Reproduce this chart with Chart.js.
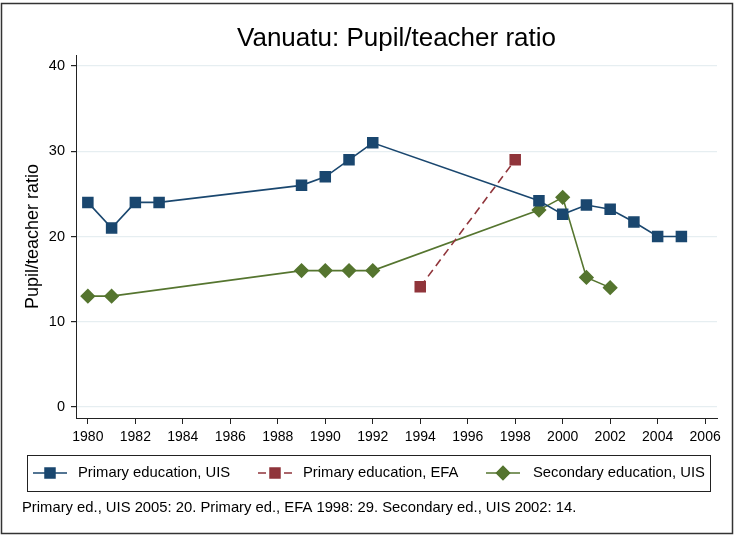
<!DOCTYPE html>
<html>
<head>
<meta charset="utf-8">
<script src="https://cdn.jsdelivr.net/npm/chart.js@4/dist/chart.umd.min.js"></script>
<style>
  html, body { margin: 0; padding: 0; background: #fff; }
  #wrap { width: 736px; height: 536px; }
</style>
</head>
<body>
<div id="wrap"><canvas id="chart" width="736" height="536"></canvas></div>
<script>
// values
const years_uis = [1980, 1981, 1982, 1983, 1989, 1990, 1991, 1992, 1999, 2000, 2001, 2002, 2003, 2004, 2005];
const primary_uis = [24, 21, 24, 24, 26, 27, 29, 31, 24.2, 22.6, 23.7, 23.2, 21.7, 20, 20];
const years_efa = [1994, 1998];
const primary_efa = [14.1, 29];
const years_sec = [1980, 1981, 1989, 1990, 1991, 1992, 1999, 2000, 2001, 2002];
const secondary_uis = [13, 13, 16, 16, 16, 16, 23.1, 24.6, 15.2, 14];
const x_ticks = [1980, 1982, 1984, 1986, 1988, 1990, 1992, 1994, 1996, 1998, 2000, 2002, 2004, 2006];
const y_ticks = [0, 10, 20, 30, 40];
const title = 'Vanuatu: Pupil/teacher ratio';
const note = 'Primary ed., UIS 2005: 20. Primary ed., EFA 1998: 29. Secondary ed., UIS 2002: 14.';

const NAVY = '#1a476f', MAROON = '#90353b', GREEN = '#55752f';
const FONT = 'Liberation Sans, Arial, sans-serif';

function pts(xs, ys) {
    return xs.map((x, i) => ({ x: x, y: ys[i] }));
}

// title, legend box, note and frame
const extras = {
    id: 'extras',
    afterDraw(chart) {
        const ctx = chart.ctx;
        const area = chart.chartArea;
        ctx.save();
        ctx.fillStyle = '#000';
        ctx.textBaseline = 'middle';
        ctx.textAlign = 'center';
        ctx.font = '26px ' + FONT;
        ctx.fillText(title, (area.left + area.right) / 2, 39);

        // legend
        ctx.strokeStyle = '#222';
        ctx.lineWidth = 1;
        ctx.strokeRect(27.5, 455.5, 683, 36);
        const items = [{ x0: 33, text: 78 }, { x0: 258, text: 303 }, { x0: 486, text: 533 }];
        ctx.font = '14.8px ' + FONT;
        ctx.textAlign = 'left';
        chart.data.datasets.forEach((ds, i) => {
            const it = items[i];
            const y = 473;
            ctx.strokeStyle = ds.borderColor;
            ctx.lineWidth = ds.borderWidth;
            ctx.setLineDash(ds.borderDash || []);
            ctx.beginPath();
            ctx.moveTo(it.x0, y);
            ctx.lineTo(it.x0 + 34, y);
            ctx.stroke();
            ctx.setLineDash([]);
            Chart.helpers.drawPoint(ctx, {
                pointStyle: ds.pointStyle,
                radius: ds.pointRadius,
                rotation: 0,
                borderWidth: 1
            }, it.x0 + 17, y);
            ctx.fillStyle = ds.pointBackgroundColor;
            ctx.fill();
            ctx.fillStyle = '#000';
            ctx.fillText(ds.label, it.text, y);
        });

        ctx.font = '14.8px ' + FONT;
        ctx.fillText(note, 22, 508);

        ctx.strokeStyle = '#333';
        ctx.lineWidth = 1.5;
        ctx.strokeRect(1.5, 3.5, 731, 530);
        ctx.restore();
    }
};

new Chart(document.getElementById('chart'), {
    type: 'line',
    data: {
        datasets: [
            {
                label: 'Primary education, UIS',
                data: pts(years_uis, primary_uis),
                borderColor: NAVY,
                backgroundColor: NAVY,
                pointBackgroundColor: NAVY,
                pointBorderColor: NAVY,
                borderWidth: 1.6,
                pointStyle: 'rect',
                pointRadius: 7,
                tension: 0
            },
            {
                label: 'Primary education, EFA',
                data: pts(years_efa, primary_efa),
                borderColor: MAROON,
                backgroundColor: MAROON,
                pointBackgroundColor: MAROON,
                pointBorderColor: MAROON,
                borderWidth: 1.6,
                borderDash: [8, 5],
                pointStyle: 'rect',
                pointRadius: 7,
                tension: 0
            },
            {
                label: 'Secondary education, UIS',
                data: pts(years_sec, secondary_uis),
                borderColor: GREEN,
                backgroundColor: GREEN,
                pointBackgroundColor: GREEN,
                pointBorderColor: GREEN,
                borderWidth: 1.6,
                pointStyle: 'rectRot',
                pointRadius: 6.5,
                tension: 0
            }
        ]
    },
    options: {
        responsive: false,
        animation: false,
        layout: { padding: { left: 22, right: 19, top: 55, bottom: 78 } },
        plugins: {
            legend: { display: false },
            title: { display: false },
            tooltip: { enabled: false }
        },
        scales: {
            x: {
                type: 'linear',
                min: 1979.5,
                max: 2006.5,
                afterBuildTicks: s => { s.ticks = x_ticks.map(v => ({ value: v })); },
                afterFit: s => { s.height = 40; },
                grid: { drawOnChartArea: false, tickLength: 6, tickColor: '#222' },
                border: { color: '#222', width: 1 },
                ticks: {
                    color: '#000',
                    padding: 5,
                    maxRotation: 0,
                    autoSkip: false,
                    font: { family: FONT, size: 14 },
                    callback: v => String(v)
                }
            },
            y: {
                min: -1.3,
                max: 41.3,
                afterBuildTicks: s => { s.ticks = y_ticks.map(v => ({ value: v })); },
                afterFit: s => { s.width = 54; },
                grid: { color: '#e6eef1', lineWidth: 1.2, tickLength: 5, tickColor: '#222' },
                border: { color: '#222', width: 1 },
                title: {
                    display: true,
                    text: 'Pupil/teacher ratio',
                    color: '#000',
                    font: { family: FONT, size: 18 },
                    padding: { top: 0, bottom: 4 }
                },
                ticks: {
                    color: '#000',
                    padding: 6,
                    font: { family: FONT, size: 14.5 }
                }
            }
        }
    },
    plugins: [extras]
});
</script>
</body>
</html>
